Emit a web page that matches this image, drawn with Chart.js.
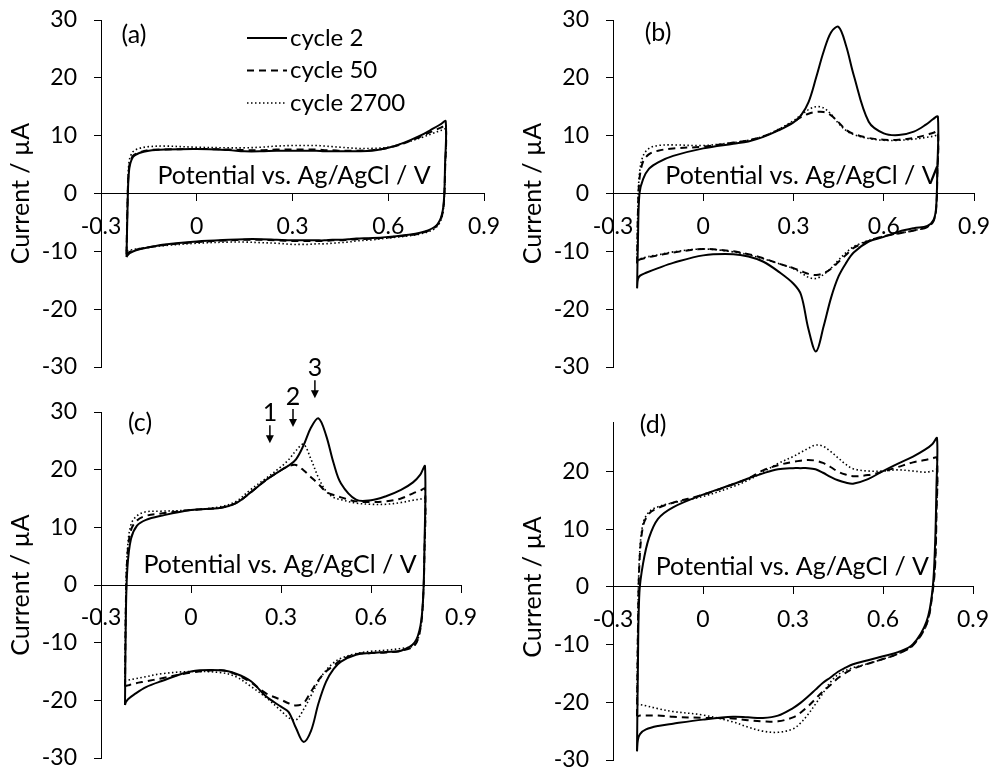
<!DOCTYPE html>
<html>
<head>
<meta charset="utf-8">
<script src="https://cdn.jsdelivr.net/npm/chart.js@4.4.1/dist/chart.umd.min.js"></script>
<style>
  html, body { margin: 0; padding: 0; background: #fff; overflow: hidden; }
  #wrap { position: relative; width: 993px; height: 771px; }
  canvas { position: absolute; }
</style>
</head>
<body>
<div id="wrap">
  <canvas id="cvA" width="510" height="390" style="left:0;top:0"></canvas>
  <canvas id="cvB" width="497" height="390" style="left:496px;top:0"></canvas>
  <canvas id="cvC" width="510" height="430" style="left:0;top:355px"></canvas>
  <canvas id="cvD" width="497" height="430" style="left:496px;top:355px"></canvas>
</div>
<script>
// potential grid (V vs Ag/AgCl): anodic sweep then cathodic sweep
const potFwd = [-0.22, -0.217, -0.212, -0.2, -0.18, -0.15, -0.1, 0, 0.1, 0.15, 0.2, 0.25, 0.3, 0.325,
    0.35, 0.375, 0.4, 0.425, 0.45, 0.475, 0.5, 0.55, 0.6, 0.65, 0.7, 0.74, 0.765, 0.78];
const potRev = [0.778, 0.774, 0.765, 0.745, 0.7, 0.65, 0.6, 0.55, 0.5, 0.475, 0.45, 0.425, 0.4, 0.375,
    0.35, 0.325, 0.3, 0.25, 0.2, 0.15, 0.1, 0, -0.1, -0.15, -0.19, -0.21, -0.217, -0.22];
const potLoop = potFwd.concat(potRev);

const cycleNames = ['cycle 2', 'cycle 50', 'cycle 2700'];

// current (µA) for each panel / cycle, same order as potLoop
const curA2 = [-11, -3, 4, 6.3, 7.0, 7.4, 7.6, 7.7, 7.5, 7.3, 7.3, 7.4, 7.4, 7.4, 7.4, 7.4, 7.3, 7.3, 7.3, 7.3, 7.3, 7.4, 7.9, 8.8, 10.0, 11.2, 12.0, 12.5,
    5, -1.5, -4.2, -5.8, -6.8, -7.2, -7.5, -7.7, -7.8, -7.9, -8.0, -8.0, -8.1, -8.1, -8.1, -8.1, -8.1, -8.0, -7.9, -7.9, -8.0, -8.3, -8.8, -9.3, -9.8, -10.3, -10.7, -11];
const curA50 = [-10.5, -2, 4.5, 6.5, 7.1, 7.5, 7.6, 7.7, 7.6, 7.5, 7.5, 7.6, 7.6, 7.6, 7.6, 7.6, 7.5, 7.5, 7.4, 7.4, 7.4, 7.5, 7.9, 8.7, 9.8, 10.8, 11.4, 11.7,
    4, -1.8, -4.4, -5.9, -6.9, -7.3, -7.6, -7.8, -7.9, -8.0, -8.1, -8.1, -8.2, -8.2, -8.2, -8.2, -8.2, -8.1, -8.0, -8.0, -8.1, -8.4, -8.9, -9.3, -9.7, -10.1, -10.3, -10.5];
const curA2700 = [-10, -1, 5.5, 7.2, 7.8, 8.1, 8.2, 8.0, 7.9, 7.9, 8.0, 8.2, 8.3, 8.3, 8.3, 8.3, 8.2, 8.1, 8.0, 7.9, 7.8, 7.8, 8.0, 8.7, 9.6, 10.4, 10.9, 11.1,
    4, -2, -4.6, -6.1, -7.0, -7.4, -7.7, -8.0, -8.2, -8.4, -8.5, -8.6, -8.7, -8.7, -8.8, -8.8, -8.8, -8.6, -8.5, -8.4, -8.4, -8.6, -9.0, -9.3, -9.6, -9.8, -9.9, -10];

const curB2 = [-16.4, -8, 0, 2.5, 4.3, 5.4, 6.5, 7.8, 8.6, 9.0, 9.8, 10.9, 12.3, 13.5, 15.8, 20.0, 24.5, 27.9, 28.8, 25.5, 20.5, 12.4, 10.4, 10.1, 10.7, 11.9, 12.9, 13.3,
    4, -2.5, -4.6, -5.6, -6.0, -6.6, -7.5, -8.3, -10.2, -12, -14.3, -18, -23, -27.3, -23.5, -17.5, -15.6, -13.5, -11.8, -10.9, -10.5, -10.7, -12, -12.9, -13.7, -14.2, -14.8, -16.4];
const curB50 = [-12.1, -3, 2.5, 5.5, 6.8, 7.4, 7.8, 8.1, 8.8, 9.2, 9.9, 11.0, 12.4, 13.2, 13.8, 14.1, 14.1, 13.5, 12.3, 11.0, 10.3, 9.6, 9.3, 9.3, 9.6, 10.1, 10.5, 10.7,
    3, -2.8, -4.8, -5.8, -6.4, -6.9, -7.4, -8.2, -9.4, -10.6, -11.8, -13.0, -13.8, -14.1, -13.9, -13.4, -12.9, -12.1, -11.2, -10.5, -10.0, -9.6, -10.2, -10.7, -11.1, -11.4, -11.6, -12.1];
const curB2700 = [-12, -2, 3.5, 6.5, 7.8, 8.3, 8.4, 8.3, 8.8, 9.2, 9.9, 11.1, 12.6, 13.6, 14.5, 15.0, 14.8, 13.7, 12.1, 10.9, 10.2, 9.5, 9.2, 9.2, 9.4, 9.7, 9.9, 10.0,
    3, -2.8, -4.8, -5.8, -6.4, -6.9, -7.4, -8.1, -9.2, -10.2, -11.5, -12.9, -14.0, -14.7, -14.5, -13.7, -13.0, -12.1, -11.3, -10.6, -10.1, -9.6, -10.1, -10.6, -11.0, -11.3, -11.6, -12];

const curC2 = [-20.8, -5, 3, 8.0, 10.3, 11.3, 12.0, 13.0, 13.4, 14.2, 16.1, 18.2, 19.9, 20.7, 21.8, 24.2, 27.3, 28.9, 26.0, 21.2, 17.6, 14.8, 14.7, 15.4, 16.5, 17.8, 19.2, 20.6,
    6, -2, -7.0, -10.0, -11.4, -11.6, -11.8, -12.1, -13.3, -14.6, -16.8, -20.5, -25.3, -27.2, -24.8, -22.0, -21.1, -19.3, -16.7, -15.4, -14.8, -15.0, -16.7, -17.7, -19.0, -19.8, -20.3, -20.8];
const curC50 = [-17.6, -3, 5, 9.5, 11.2, 12.0, 12.4, 13.0, 13.4, 14.2, 16.1, 18.2, 19.9, 20.6, 20.8, 19.9, 18.7, 17.5, 16.2, 15.6, 15.2, 14.5, 14.4, 14.5, 15.0, 15.9, 16.4, 16.7,
    5, -2, -7.5, -10.5, -11.4, -11.7, -11.8, -12.0, -13.0, -14.0, -15.0, -16.5, -18.5, -20.5, -20.9, -20.5, -19.9, -18.8, -16.9, -15.5, -14.8, -15.2, -16.2, -16.7, -17.1, -17.4, -17.5, -17.6];
const curC2700 = [-16.7, -2, 6, 10.5, 12.0, 12.7, 12.8, 13.0, 13.6, 14.5, 16.6, 18.5, 20.5, 21.7, 23.3, 24.4, 21.8, 18.6, 16.3, 15.2, 14.8, 14.2, 14.0, 14.0, 14.3, 14.7, 14.9, 15.0,
    5, -2, -7.5, -10.4, -11.0, -11.3, -11.5, -11.9, -12.7, -13.5, -14.8, -16.7, -19.2, -21.6, -23.4, -23.0, -21.8, -19.5, -17.6, -15.9, -15.2, -15.0, -15.4, -15.9, -16.3, -16.5, -16.6, -16.7];

const curD2 = [-28.5, -14, -1, 4.0, 8.5, 11.8, 13.8, 16.0, 17.8, 18.8, 19.7, 20.4, 20.6, 20.6, 20.6, 20.4, 19.8, 19.1, 18.5, 18.1, 17.9, 18.7, 20.1, 21.4, 22.6, 23.8, 24.8, 25.8,
    17, 8, -0.5, -6.0, -9.9, -11.3, -12.0, -12.7, -13.4, -14.0, -14.7, -15.7, -16.6, -17.8, -19.0, -20.1, -21.0, -22.3, -22.7, -22.6, -22.5, -23.0, -23.7, -24.1, -24.7, -25.5, -26.5, -28.5];
const curD50 = [-22.4, -8, 4, 10.5, 12.7, 13.7, 14.6, 16.0, 17.8, 18.8, 20.2, 21.1, 21.7, 21.9, 22.0, 21.9, 21.5, 20.8, 20.0, 19.5, 19.2, 19.4, 20.0, 20.8, 21.6, 22.0, 22.3, 22.4,
    12, 4, -1, -6.5, -10.1, -11.6, -12.5, -13.3, -14.2, -14.9, -15.8, -17.0, -18.1, -19.4, -20.7, -21.8, -22.6, -23.3, -23.3, -23.1, -22.8, -22.7, -22.5, -22.3, -22.3, -22.3, -22.4, -22.4];
const curD2700 = [-20.4, -6, 5, 11.0, 13.0, 13.9, 14.6, 15.7, 17.4, 18.5, 19.9, 21.4, 22.6, 23.3, 24.0, 24.6, 24.4, 23.5, 22.4, 21.3, 20.5, 20.1, 20.1, 20.3, 20.1, 19.9, 20.1, 20.3,
    12, 4, -1, -6.5, -10.1, -11.6, -12.5, -13.3, -14.0, -14.5, -15.2, -16.5, -18.4, -20.3, -22.1, -23.6, -24.6, -25.2, -25.0, -24.3, -23.4, -22.2, -21.6, -21.1, -20.6, -20.4, -20.4, -20.4];

// peak markers in panel (c)
const arrowLabels = ['1', '2', '3'];
const arrowPot = [0.263, 0.34, 0.413];
const arrowTip = [24.6, 27.4, 32.4];

const xTicks = [-0.3, 0, 0.3, 0.6, 0.9];
const xTitle = 'Potential vs. Ag/AgCl / V';
const yTitle = 'Current / µA';

// line styles for the three cycles
const lineDash = [[], [7, 5], [1.5, 2.5]];
const lineWidth = [2, 2, 1.6];

const TITLE_FONT = '25px Lato';
const LEGEND_FONT = '24px Lato';
Chart.defaults.font.family = 'Lato';
Chart.defaults.font.size = 23;
Chart.defaults.color = '#000';

const panels = [
    { canvas: 'cvA', tag: '(a)', cur: [curA2, curA50, curA2700], yMax: 30, axisW: 101,
      pad: { top: 20, right: 26, bottom: 23 }, tagAt: [33, 15], titleX: 0.305, titleLift: 10, legend: true },
    { canvas: 'cvB', tag: '(b)', cur: [curB2, curB50, curB2700], yMax: 30, axisW: 117,
      pad: { top: 20, right: 19, bottom: 23 }, tagAt: [45, 13], titleX: 0.328, titleLift: 10 },
    { canvas: 'cvC', tag: '(c)', cur: [curC2, curC50, curC2700], yMax: 30, axisW: 101,
      pad: { top: 57, right: 49, bottom: 27 }, tagAt: [39, 11], titleX: 0.297, titleLift: 12, arrows: true },
    { canvas: 'cvD', tag: '(d)', cur: [curD2, curD50, curD2700], yMax: 28.6, axisW: 117,
      pad: { top: 67, right: 20, bottom: 25 }, tagAt: [40, 3], titleX: 0.298, titleLift: 12 }
];

function makeNotes(p) {
    return {
        id: 'notes',
        afterDraw: function(chart) {
            const ctx = chart.ctx;
            const area = chart.chartArea;
            const xs = chart.scales.x;
            const ys = chart.scales.y;
            const zeroY = ys.getPixelForValue(0);
            ctx.save();
            ctx.fillStyle = '#000';
            ctx.strokeStyle = '#000';
            ctx.font = TITLE_FONT;

            // y axis title
            ctx.save();
            ctx.translate(area.left - 80, zeroY);
            ctx.rotate(-Math.PI / 2);
            ctx.textAlign = 'center';
            ctx.textBaseline = 'middle';
            ctx.fillText(yTitle, 0, 0);
            ctx.restore();

            // x axis title sits just above the zero line
            ctx.textAlign = 'center';
            ctx.textBaseline = 'alphabetic';
            ctx.fillText(xTitle, xs.getPixelForValue(p.titleX), zeroY - p.titleLift);

            // panel tag
            ctx.textBaseline = 'middle';
            ctx.fillText(p.tag, area.left + p.tagAt[0], area.top + p.tagAt[1]);

            if (p.legend) {
                ctx.font = LEGEND_FONT;
                chart.data.datasets.forEach(function(ds, i) {
                    const y = area.top + 18 + i * 32.5;
                    ctx.save();
                    ctx.lineWidth = ds.borderWidth;
                    ctx.setLineDash(ds.borderDash);
                    ctx.beginPath();
                    ctx.moveTo(area.left + 146, y);
                    ctx.lineTo(area.left + 186, y);
                    ctx.stroke();
                    ctx.restore();
                    ctx.textAlign = 'left';
                    ctx.fillText(ds.label, area.left + 189, y);
                });
            }

            if (p.arrows) {
                ctx.font = TITLE_FONT;
                arrowLabels.forEach(function(lab, i) {
                    const x = xs.getPixelForValue(arrowPot[i]);
                    const tip = ys.getPixelForValue(arrowTip[i]);
                    ctx.lineWidth = 1.5;
                    ctx.beginPath();
                    ctx.moveTo(x, tip - 18);
                    ctx.lineTo(x, tip - 6);
                    ctx.stroke();
                    ctx.beginPath();
                    ctx.moveTo(x - 4, tip - 8);
                    ctx.lineTo(x + 4, tip - 8);
                    ctx.lineTo(x, tip);
                    ctx.closePath();
                    ctx.fill();
                    ctx.textAlign = 'center';
                    ctx.fillText(lab, x, tip - 30);
                });
            }
            ctx.restore();
        }
    };
}

panels.forEach(function(p) {
    const datasets = p.cur.map(function(cur, i) {
        return {
            label: cycleNames[i],
            data: potLoop.map(function(v, k) { return { x: v, y: cur[k] }; }),
            showLine: true,
            borderColor: '#000',
            borderWidth: lineWidth[i],
            borderDash: lineDash[i],
            pointRadius: 0,
            tension: 0.35,
            fill: false
        };
    });

    new Chart(document.getElementById(p.canvas), {
        type: 'scatter',
        data: { datasets: datasets },
        options: {
            responsive: false,
            animation: false,
            layout: { padding: { left: 0, top: p.pad.top, right: p.pad.right, bottom: p.pad.bottom } },
            plugins: { legend: { display: false }, tooltip: { enabled: false } },
            scales: {
                x: {
                    type: 'linear',
                    position: { y: 0 },
                    min: -0.3,
                    max: 0.9,
                    afterBuildTicks: function(s) { s.ticks = xTicks.map(function(v) { return { value: v }; }); },
                    ticks: {
                        padding: 12,
                        maxRotation: 0,
                        autoSkip: false,
                        callback: function(v) { return String(Number(v.toFixed(1))); }
                    },
                    grid: { drawOnChartArea: false, tickLength: 7, color: '#000' },
                    border: { color: '#000', width: 1 },
                    // labels may overhang; keep the plot box where it is
                    afterFit: function(s) { s.paddingLeft = 0; s.paddingRight = 0; }
                },
                y: {
                    type: 'linear',
                    min: -30,
                    max: p.yMax,
                    ticks: { stepSize: 10, includeBounds: false, padding: 17 },
                    grid: { drawOnChartArea: false, tickLength: 7, color: '#000' },
                    border: { color: '#000', width: 1 },
                    afterFit: function(s) {
                        s.width = p.axisW;
                        s.paddingTop = 0;
                        s.paddingBottom = 0;
                    }
                }
            }
        },
        plugins: [makeNotes(p)]
    });
});
</script>
</body>
</html>
